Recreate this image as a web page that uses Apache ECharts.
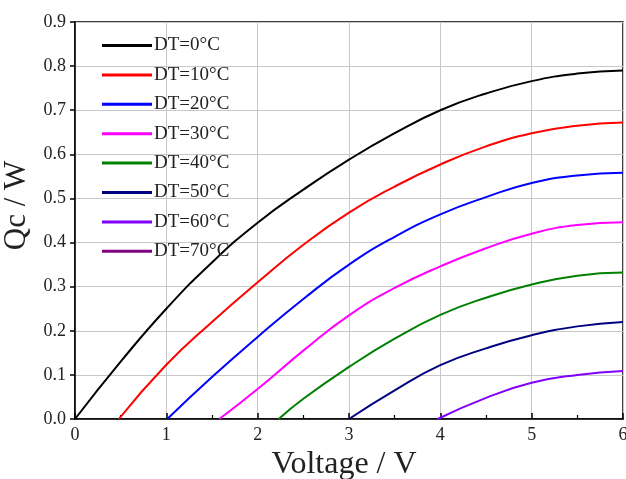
<!DOCTYPE html>
<html>
<head>
<meta charset="utf-8">
<script src="https://cdn.jsdelivr.net/npm/echarts@6/dist/echarts.min.js"></script>
<style>
  html, body { margin: 0; padding: 0; background: #fff; }
  #main { width: 626px; height: 479px; }
</style>
</head>
<body>
<div id="main"></div>
<script>
var names = ['DT=0°C', 'DT=10°C', 'DT=20°C', 'DT=30°C', 'DT=40°C', 'DT=50°C', 'DT=60°C', 'DT=70°C'];
var colors = ['#000000', '#ff0000', '#0000ff', '#ff00ff', '#008000', '#000080', '#8000ff', '#800080'];

// [voltage, Qc]
var dt0 = [[0, 0], [0.5, 0.13], [1, 0.25], [1.5, 0.355], [2, 0.445], [2.5, 0.52], [3, 0.588], [3.5, 0.648], [4, 0.70], [4.5, 0.738], [5, 0.766], [5.5, 0.783], [6, 0.79]];
var dt10 = [[0.48, 0], [1, 0.123], [1.5, 0.22], [2, 0.31], [2.5, 0.395], [3, 0.468], [3.5, 0.527], [4, 0.577], [4.5, 0.618], [5, 0.648], [5.5, 0.665], [6, 0.672]];
var dt20 = [[1.01, 0], [1.5, 0.095], [2, 0.186], [2.5, 0.272], [3, 0.35], [3.5, 0.413], [4, 0.464], [4.5, 0.503], [5, 0.535], [5.5, 0.552], [6, 0.558]];
var dt30 = [[1.58, 0], [2, 0.068], [2.5, 0.155], [3, 0.235], [3.5, 0.297], [4, 0.346], [4.5, 0.387], [5, 0.42], [5.5, 0.44], [6, 0.446]];
var dt40 = [[2.23, 0], [2.5, 0.046], [3, 0.118], [3.5, 0.182], [4, 0.236], [4.5, 0.275], [5, 0.305], [5.5, 0.325], [6, 0.332]];
var dt50 = [[3.0, 0], [3.5, 0.065], [4, 0.122], [4.5, 0.16], [5, 0.19], [5.5, 0.21], [6, 0.22]];
var dt60 = [[3.97, 0], [4.5, 0.048], [5, 0.082], [5.5, 0.10], [6, 0.109]];
var dt70 = [];
var seriesData = [dt0, dt10, dt20, dt30, dt40, dt50, dt60, dt70];

var serif = '"Liberation Serif", "Times New Roman", serif';

var myChart = echarts.init(document.getElementById('main'));

var series = [];
for (var i = 0; i < names.length; i++) {
    series.push({
        name: names[i],
        type: 'line',
        data: seriesData[i],
        smooth: true,
        showSymbol: false,
        lineStyle: { width: 2, color: colors[i] },
        itemStyle: { color: colors[i] }
    });
}

var option = {
    animation: false,
    backgroundColor: '#fff',
    grid: {
        left: 75,
        right: 3,
        top: 22,
        bottom: 60,
        containLabel: false,
        outerBoundsMode: 'none',
        show: true,
        borderColor: '#000',
        borderWidth: 1.5
    },
    legend: {
        orient: 'vertical',
        left: 97,
        top: 31,
        itemWidth: 50,
        itemHeight: 3,
        itemGap: 10.4,
        icon: 'rect',
        data: names,
        textStyle: { fontFamily: serif, fontSize: 19, color: '#222', padding: [0, 0, 0, -3] }
    },
    xAxis: {
        type: 'value',
        min: 0,
        max: 6,
        interval: 1,
        name: 'Voltage / V',
        nameLocation: 'middle',
        nameGap: 30,
        nameTextStyle: { fontFamily: serif, fontSize: 32, color: '#222', padding: [0, 10, 0, 0] },
        axisLine: { lineStyle: { color: '#000', width: 1.5 } },
        axisTick: { inside: true, length: 6, lineStyle: { color: '#000', width: 1.5 } },
        minorTick: { show: true, splitNumber: 2, length: 4, lineStyle: { color: '#000', width: 1.2 } },
        axisLabel: { fontFamily: serif, fontSize: 18, color: '#222', margin: 7 },
        splitLine: { show: true, lineStyle: { color: '#c8c8c8', width: 1 } }
    },
    yAxis: {
        type: 'value',
        min: 0,
        max: 0.9,
        interval: 0.1,
        name: 'Qc / W',
        nameLocation: 'middle',
        nameRotate: 90,
        nameGap: 36,
        nameTextStyle: { fontFamily: serif, fontSize: 31, color: '#222', padding: [0, 0, 0, 30] },
        axisLine: { lineStyle: { color: '#000', width: 1.5 } },
        axisTick: { inside: false, length: 5, lineStyle: { color: '#000', width: 1.5 } },
        axisLabel: {
            fontFamily: serif, fontSize: 18, color: '#222', margin: 9,
            formatter: function (v) { return v.toFixed(1); }
        },
        splitLine: { show: true, lineStyle: { color: '#c8c8c8', width: 1 } }
    },
    series: series
};

myChart.setOption(option);
</script>
</body>
</html>
